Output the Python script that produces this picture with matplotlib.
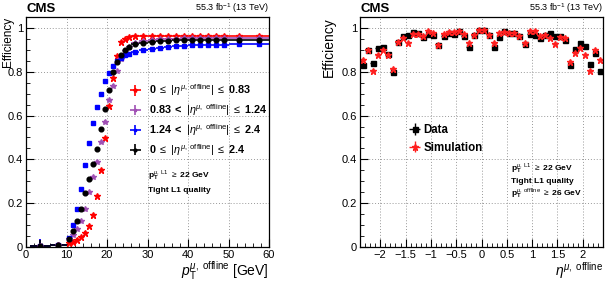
import matplotlib
matplotlib.use("Agg")
import matplotlib.pyplot as plt
import numpy as np
from matplotlib.ticker import MultipleLocator

plt.rcParams['font.family'] = ['Liberation Sans', 'DejaVu Sans']
plt.rcParams['mathtext.fontset'] = 'custom'
plt.rcParams['mathtext.rm'] = 'Liberation Sans'
plt.rcParams['mathtext.it'] = 'Liberation Sans:italic'
plt.rcParams['mathtext.bf'] = 'Liberation Sans:bold'

# ---------------- left panel data ----------------
pt_centers = [3.5, 8, 10.5, 11.5, 12.5, 13.5, 14.5, 15.5, 16.5, 17.5, 18.5, 19.5,
              20.5, 21.5, 22.5, 23.5, 24.5, 25.5, 27, 29, 31, 33, 35, 37, 39, 41,
              43, 45, 47, 49, 52.5, 57.5]
pt_halfwidth = [2.5, 2, 0.5, 0.5, 0.5, 0.5, 0.5, 0.5, 0.5, 0.5, 0.5, 0.5,
                0.5, 0.5, 0.5, 0.5, 0.5, 0.5, 1, 1, 1, 1, 1, 1, 1, 1,
                1, 1, 1, 1, 2.5, 2.5]
eff_barrel = [0.005, 0.01, 0.018, 0.025, 0.033, 0.045, 0.065, 0.096, 0.145, 0.233, 0.35, 0.497,
              0.644, 0.77, 0.87, 0.935, 0.95, 0.958, 0.962, 0.963, 0.963, 0.964, 0.964, 0.964,
              0.964, 0.964, 0.964, 0.964, 0.964, 0.964, 0.964, 0.964]
eff_overlap = [0.005, 0.01, 0.035, 0.055, 0.081, 0.12, 0.172, 0.25, 0.32, 0.39, 0.48, 0.572,
               0.67, 0.737, 0.805, 0.86, 0.895, 0.915, 0.93, 0.94, 0.945, 0.948, 0.95, 0.951,
               0.952, 0.952, 0.953, 0.953, 0.953, 0.953, 0.953, 0.953]
eff_endcap = [0.005, 0.01, 0.042, 0.099, 0.175, 0.263, 0.374, 0.473, 0.565, 0.64, 0.70, 0.757,
              0.793, 0.826, 0.85, 0.865, 0.875, 0.882, 0.89, 0.9, 0.906, 0.91, 0.914, 0.917,
              0.919, 0.921, 0.922, 0.923, 0.924, 0.924, 0.925, 0.925]
eff_all = [0.003, 0.01, 0.035, 0.075, 0.119, 0.172, 0.245, 0.31, 0.379, 0.449, 0.537, 0.629,
           0.715, 0.8, 0.846, 0.877, 0.9, 0.915, 0.925, 0.932, 0.936, 0.94, 0.942, 0.943,
           0.944, 0.945, 0.945, 0.945, 0.946, 0.946, 0.946, 0.946]
pt_err = [0.03, 0.01, 0.006, 0.006, 0.006, 0.006, 0.006, 0.006, 0.006, 0.006, 0.006, 0.006,
          0.005, 0.005, 0.004, 0.004, 0.004, 0.004, 0.003, 0.003, 0.003, 0.003, 0.003, 0.003,
          0.003, 0.003, 0.003, 0.003, 0.003, 0.003, 0.003, 0.003]

labels_left = [
    r"$\mathbf{0}\ \leq\ |\eta^{\mu,\ \mathrm{offline}}|\ \leq\ \mathbf{0.83}$",
    r"$\mathbf{0.83}\ \mathbf{<}\ |\eta^{\mu,\ \mathrm{offline}}|\ \leq\ \mathbf{1.24}$",
    r"$\mathbf{1.24}\ \mathbf{<}\ |\eta^{\mu,\ \mathrm{offline}}|\ \leq\ \mathbf{2.4}$",
    r"$\mathbf{0}\ \leq\ |\eta^{\mu,\ \mathrm{offline}}|\ \leq\ \mathbf{2.4}$",
]

# ---------------- right panel data ----------------
eta_centers = [-2.35, -2.25, -2.15, -2.05, -1.95, -1.85, -1.75, -1.65, -1.55, -1.45, -1.35, -1.25,
               -1.15, -1.05, -0.95, -0.85, -0.75, -0.65, -0.55, -0.45, -0.35, -0.25, -0.15, -0.05,
               0.05, 0.15, 0.25, 0.35, 0.45, 0.55, 0.65, 0.75, 0.85, 0.95, 1.05, 1.15,
               1.25, 1.35, 1.45, 1.55, 1.65, 1.75, 1.85, 1.95, 2.05, 2.15, 2.25, 2.35]
eff_data = [0.83, 0.898, 0.84, 0.907, 0.912, 0.883, 0.798, 0.938, 0.962, 0.968, 0.98, 0.976,
            0.957, 0.973, 0.968, 0.921, 0.965, 0.976, 0.974, 0.985, 0.965, 0.912, 0.968, 0.989,
            0.989, 0.968, 0.912, 0.957, 0.985, 0.976, 0.976, 0.965, 0.927, 0.973, 0.968, 0.952,
            0.968, 0.976, 0.965, 0.965, 0.947, 0.83, 0.904, 0.932, 0.916, 0.836, 0.886, 0.802]
eff_sim = [0.852, 0.898, 0.804, 0.875, 0.898, 0.877, 0.814, 0.935, 0.954, 0.932, 0.973, 0.973,
           0.965, 0.985, 0.977, 0.921, 0.974, 0.982, 0.982, 0.988, 0.971, 0.932, 0.968, 0.989,
           0.989, 0.968, 0.932, 0.977, 0.982, 0.976, 0.977, 0.965, 0.933, 0.985, 0.988, 0.963,
           0.967, 0.954, 0.928, 0.957, 0.954, 0.846, 0.886, 0.909, 0.878, 0.805, 0.901, 0.855]
eta_err = 0.004

fig = plt.figure(figsize=(6.09, 2.89), dpi=100)
W, H = 609, 289

def add_axes_px(x0, x1, ytop, ybot):
    return fig.add_axes([x0 / W, 1 - ybot / H, (x1 - x0) / W, (ybot - ytop) / H])

ax1 = add_axes_px(26, 269, 17, 247)
ax2 = add_axes_px(360, 603, 17, 247)

def style_axes(ax):
    ax.grid(True, which='major', linestyle=(0, (1, 2)), color='#999999', linewidth=0.7)
    ax.set_axisbelow(True)
    ax.tick_params(which='both', direction='in', top=False, right=False, labelsize=8, pad=2)
    ax.tick_params(which='major', length=6, width=0.8)
    ax.tick_params(which='minor', length=3, width=0.6)
    for s in ax.spines.values():
        s.set_linewidth(0.9)

# left
series = [
    (eff_barrel, '#ff0000', '*', 5.0),
    (eff_overlap, '#a050b4', '*', 4.0),
    (eff_endcap, '#0000ff', 's', 3.2),
    (eff_all, '#000000', 'o', 3.4),
]
handles = []
for (vals, col, mk, ms), lab in zip(series, labels_left):
    h = ax1.errorbar(pt_centers, vals, xerr=pt_halfwidth, yerr=pt_err, fmt=mk, color=col,
                     ms=ms, elinewidth=1.2, capsize=0, label=lab, mec=col, mfc=col)
    handles.append(h)
ax1.set_xlim(0, 60)
ax1.set_ylim(0, 1.05)
ax1.set_yticks([0, 0.2, 0.4, 0.6, 0.8, 1.0])
ax1.set_yticklabels(['0', '0.2', '0.4', '0.6', '0.8', '1'])
ax1.yaxis.set_minor_locator(MultipleLocator(0.05))
ax1.xaxis.set_minor_locator(MultipleLocator(2))
style_axes(ax1)
ax1.set_xlabel(r"$p_{\mathrm{T}}^{\mu,\ \mathrm{offline}}$ [GeV]", fontsize=10, loc='right', labelpad=0)
ax1.set_ylabel("Efficiency", fontsize=8.5, loc='top', labelpad=0)
ax1.yaxis.set_label_coords(-0.05, 1.0)
leg1 = ax1.legend(handles=handles, loc='upper left', bbox_to_anchor=(0.38, 0.75), frameon=False,
                  fontsize=7.8, handlelength=1.7, handletextpad=0.4, labelspacing=0.38,
                  borderpad=0.2, markerscale=0.6)
ax1.text(0.5, 0.31, r"$\mathbf{p}_{\mathbf{T}}^{\mu,\ \mathrm{L1}}$ $\geq$ 22 GeV", transform=ax1.transAxes,
         fontsize=6, fontweight='bold', va='center', ha='left')
ax1.text(0.5, 0.245, "Tight L1 quality", transform=ax1.transAxes,
         fontsize=6, fontweight='bold', va='center', ha='left')
ax1.text(0.0, 1.01, "CMS", transform=ax1.transAxes, fontsize=9.5, fontweight='bold',
         ha='left', va='bottom')
ax1.text(1.0, 1.01, r"55.3 fb$^{\mathrm{-1}}$ (13 TeV)", transform=ax1.transAxes, fontsize=6.5,
         ha='right', va='bottom')

# right
hd = ax2.errorbar(eta_centers, eff_data, xerr=0.05, yerr=eta_err, fmt='s', color='black',
                  ms=3.6, elinewidth=1.0, capsize=0, label='Data')
hs = ax2.errorbar(eta_centers, eff_sim, xerr=0.05, yerr=eta_err, fmt='*', color='#ff2020',
                  ms=5.0, elinewidth=1.0, capsize=0, label='Simulation')
ax2.set_xlim(-2.4, 2.4)
ax2.set_ylim(0, 1.05)
ax2.set_yticks([0, 0.2, 0.4, 0.6, 0.8, 1.0])
ax2.set_yticklabels(['0', '0.2', '0.4', '0.6', '0.8', '1'])
ax2.set_xticks([-2, -1.5, -1, -0.5, 0, 0.5, 1, 1.5, 2])
ax2.set_xticklabels(['\u22122', '\u22121.5', '\u22121', '\u22120.5', '0', '0.5', '1', '1.5', '2'])
ax2.yaxis.set_minor_locator(MultipleLocator(0.05))
ax2.xaxis.set_minor_locator(MultipleLocator(0.1))
style_axes(ax2)
ax2.set_xlabel(r"$\eta^{\mu,\ \mathrm{offline}}$", fontsize=10, loc='right', labelpad=0)
ax2.set_ylabel("Efficiency", fontsize=10, loc='top', labelpad=0)
ax2.yaxis.set_label_coords(-0.1, 1.0)
ax2.legend(handles=[hd, hs], loc='upper left', bbox_to_anchor=(0.17, 0.57), frameon=False,
           handlelength=0.9, handletextpad=0.3, labelspacing=0.5, borderpad=0.2,
           prop={'weight': 'bold', 'size': 8.3})
ax2.text(0.62, 0.34, r"$\mathbf{p}_{\mathbf{T}}^{\mu,\ \mathrm{L1}}$ $\geq$ 22 GeV", transform=ax2.transAxes,
         fontsize=6, fontweight='bold', va='center', ha='left')
ax2.text(0.62, 0.285, "Tight L1 quality", transform=ax2.transAxes,
         fontsize=6, fontweight='bold', va='center', ha='left')
ax2.text(0.62, 0.23, r"$\mathbf{p}_{\mathbf{T}}^{\mu,\ \mathrm{offline}}$ $\geq$ 26 GeV", transform=ax2.transAxes,
         fontsize=6, fontweight='bold', va='center', ha='left')
ax2.text(0.0, 1.01, "CMS", transform=ax2.transAxes, fontsize=9.5, fontweight='bold',
         ha='left', va='bottom')
ax2.text(1.0, 1.01, r"55.3 fb$^{\mathrm{-1}}$ (13 TeV)", transform=ax2.transAxes, fontsize=6.5,
         ha='right', va='bottom')

fig.savefig("out.png", dpi=100)
